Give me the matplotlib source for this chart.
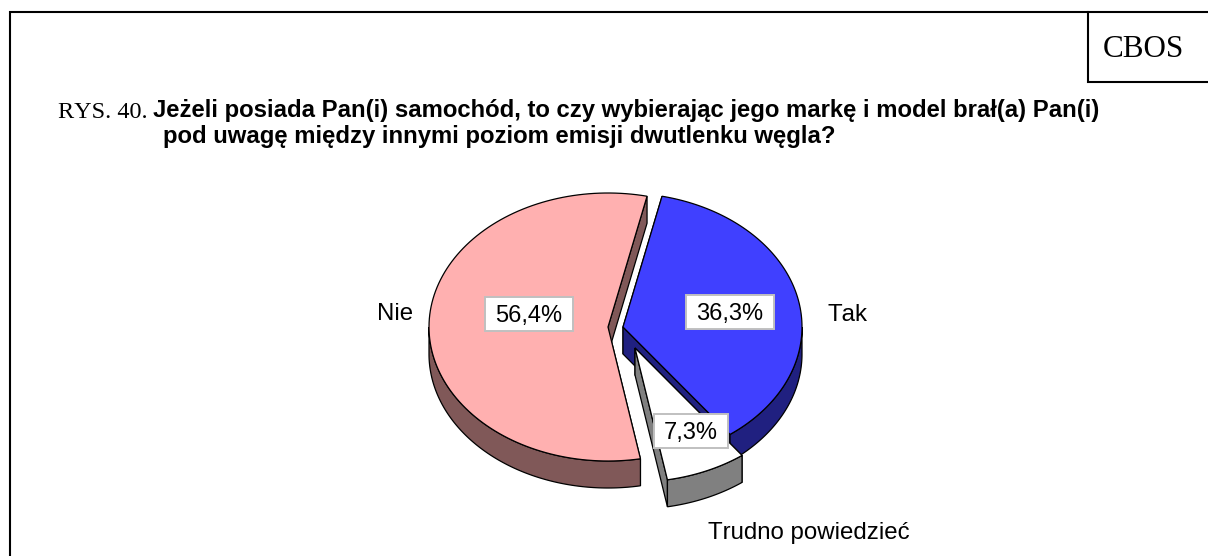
import numpy as np
import matplotlib
matplotlib.use("Agg")
import matplotlib.pyplot as plt
from matplotlib.patches import Polygon, Rectangle

plt.rcParams["text.kerning_factor"] = 6

categories = ["Tak", "Trudno powiedzieć", "Nie"]
values = [36.3, 7.3, 56.4]
value_labels = ["36,3%", "7,3%", "56,4%"]
face_colors = ["#4040FF", "#FFFFFF", "#FFB0B0"]
side_colors = ["#202080", "#808080", "#805858"]

title_prefix = "RYS. 40."
title_line1 = "Jeżeli posiada Pan(i) samochód, to czy wybierając jego markę i model brał(a) Pan(i)"
title_line2 = "pod uwagę między innymi poziom emisji dwutlenku węgla?"
badge = "CBOS"

W, H = 1208, 556
fig = plt.figure(figsize=(W / 100, H / 100), dpi=100)
ax = fig.add_axes([0, 0, 1, 1])
ax.set_xlim(0, W)
ax.set_ylim(H, 0)
ax.axis("off")

SANS = "Liberation Sans"
SERIF = "Liberation Serif"

# frame
ax.plot([10, 10, W], [H, 12, 12], color="black", lw=1.5, solid_joinstyle="miter")
ax.plot([1088, 1088, W], [12, 82, 82], color="black", lw=1.5, solid_joinstyle="miter")
ax.text(1103, 57, badge, family=SERIF, fontsize=22.4, ha="left", va="baseline")

# title
ax.text(58, 118, title_prefix, family=SERIF, fontsize=17.5, ha="left", va="baseline")
ax.text(153, 117.5, title_line1, family=SANS, weight="bold", fontsize=17.2, ha="left", va="baseline")
ax.text(163, 142.5, title_line2, family=SANS, weight="bold", fontsize=17.2, ha="left", va="baseline")

# pie geometry
A, B, DEPTH = 179, 134, 27
START = 77.4
centers = {"Tak": (623, 327), "Trudno powiedzieć": (635, 348), "Nie": (608, 327)}


def arc(c, t0, t1, n=120, dz=0):
    t = np.radians(np.linspace(t0, t1, n))
    return np.column_stack([c[0] + A * np.cos(t), c[1] - B * np.sin(t) + dz])


def wall(pts, color, z):
    ax.add_patch(Polygon(pts, closed=True, facecolor=color, edgecolor="black", lw=0.9, zorder=z))


angle = START
spans = {}
for name, val in zip(categories, values):
    spans[name] = (angle, angle - val * 3.6)
    angle -= val * 3.6

for i, name in enumerate(["Nie", "Tak", "Trudno powiedzieć"]):
    idx = categories.index(name)
    c = centers[name]
    t0, t1 = spans[name]
    z = 2 + i * 3
    side = side_colors[idx]
    # radial side walls
    for t in (t0, t1):
        e = arc(c, t, t, 1)[0]
        wall([c, e, (e[0], e[1] + DEPTH), (c[0], c[1] + DEPTH)], side, z)
    # outer wall on the front half of the slice
    lo, hi = t1, t0
    for k in (-360, 0):
        a0, a1 = max(lo, -180 + k), min(hi, 0 + k)
        if a1 > a0:
            top = arc(c, a0, a1)
            bot = arc(c, a1, a0, dz=DEPTH)
            wall(np.vstack([top, bot]), side, z)
    # top face
    wall(np.vstack([[c], arc(c, t0, t1)]), face_colors[idx], z + 1)

# value labels
renderer = fig.canvas.get_renderer()
value_pos = {"Nie": (529, 314), "Tak": (730, 312), "Trudno powiedzieć": (691, 431)}
for name, lab in zip(categories, value_labels):
    x, y = value_pos[name]
    t = ax.text(x, y + 8, lab, family=SANS, fontsize=17, ha="center", va="baseline", zorder=21)
    w = t.get_window_extent(renderer).width
    ax.add_patch(Rectangle((x - w / 2 - 10, y - 17), w + 20, 34, facecolor="white",
                           edgecolor="#C0C0C0", lw=1.4, zorder=20))

# category labels
cat_pos = {"Nie": (377, 320), "Tak": (828, 321), "Trudno powiedzieć": (708, 539)}
for name in categories:
    x, y = cat_pos[name]
    ax.text(x, y, name, family=SANS, fontsize=17.3, ha="left", va="baseline", zorder=20)

fig.savefig("out.png", dpi=100, facecolor="white")
